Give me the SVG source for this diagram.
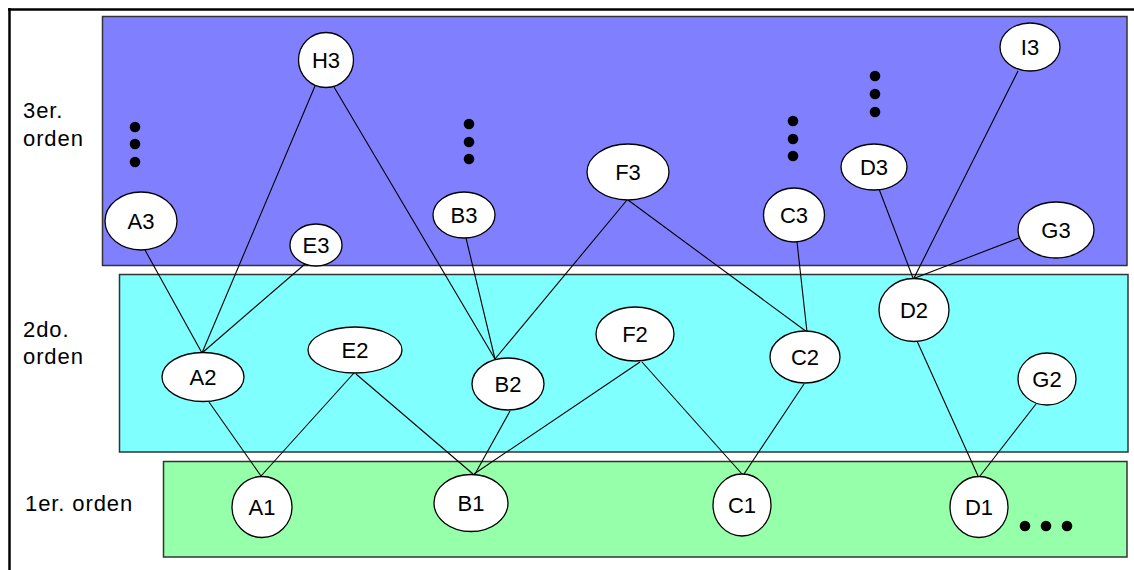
<svg xmlns="http://www.w3.org/2000/svg" width="1134" height="570" viewBox="0 0 1134 570">
<style>
.lbl{font-family:"Liberation Sans",Arial,sans-serif;font-size:22px;letter-spacing:0.9px;fill:#000}
.nt{font-family:"Liberation Sans",Arial,sans-serif;font-size:22px;fill:#000;text-anchor:middle}
.nd{fill:#fff;stroke:#000;stroke-width:1.3}
.band{stroke:#333;stroke-width:1.5}
#connectors line{stroke:#000;stroke-width:1.1}
.dot{fill:#000}
</style>
<rect width="1134" height="570" fill="#fff"/>
<g id="frame">
<line x1="8" y1="9.5" x2="1134" y2="9.5" stroke="#000" stroke-width="2.5"/>
<line x1="9.5" y1="8" x2="9.5" y2="570" stroke="#000" stroke-width="2.5"/>
</g>
<g id="bands">
<rect class="band" x="102.5" y="16.5" width="1024.5" height="249" fill="#8080ff"/>
<rect class="band" x="119.5" y="274.5" width="1008.5" height="177.5" fill="#80ffff"/>
<rect class="band" x="163.5" y="461.5" width="963.5" height="95.5" fill="#96ffaa"/>
</g>
<g id="labels">
<text class="lbl" x="23" y="118">3er.</text>
<text class="lbl" x="23" y="146">orden</text>
<text class="lbl" x="23" y="337">2do.</text>
<text class="lbl" x="23" y="364">orden</text>
<text class="lbl" x="25" y="511">1er. orden</text>
</g>
<g id="ellipsis">
<circle class="dot" cx="135" cy="127" r="5.3"/><circle class="dot" cx="135" cy="144" r="5.3"/><circle class="dot" cx="135" cy="162" r="5.3"/>
<circle class="dot" cx="469" cy="124" r="5.3"/><circle class="dot" cx="469" cy="142" r="5.3"/><circle class="dot" cx="469" cy="159" r="5.3"/>
<circle class="dot" cx="793" cy="121" r="5.3"/><circle class="dot" cx="793" cy="139" r="5.3"/><circle class="dot" cx="793" cy="156" r="5.3"/>
<circle class="dot" cx="875" cy="76" r="5.3"/><circle class="dot" cx="875" cy="94" r="5.3"/><circle class="dot" cx="875" cy="112" r="5.3"/>
<circle class="dot" cx="1025" cy="526" r="5.3"/><circle class="dot" cx="1046" cy="526" r="5.3"/><circle class="dot" cx="1067" cy="526" r="5.3"/>
</g>
<g id="connectors">
<line x1="145" y1="250" x2="202" y2="353"/>
<line x1="315" y1="86" x2="202" y2="353"/>
<line x1="305" y1="264" x2="202" y2="353"/>
<line x1="334" y1="87" x2="495" y2="359"/>
<line x1="466" y1="238" x2="495" y2="359"/>
<line x1="627" y1="200" x2="495" y2="359"/>
<line x1="628" y1="200" x2="807" y2="332"/>
<line x1="797" y1="242" x2="807" y2="332"/>
<line x1="879" y1="189" x2="913" y2="278"/>
<line x1="1018" y1="71" x2="914" y2="278"/>
<line x1="1019" y1="238" x2="915" y2="278"/>
<line x1="209" y1="402" x2="261" y2="476"/>
<line x1="354" y1="373" x2="261" y2="476"/>
<line x1="356" y1="374" x2="473" y2="474"/>
<line x1="510" y1="411" x2="475" y2="474"/>
<line x1="640" y1="362" x2="474" y2="474"/>
<line x1="642" y1="362" x2="742" y2="474"/>
<line x1="804" y1="384" x2="744" y2="474"/>
<line x1="917" y1="341" x2="978" y2="476"/>
<line x1="1036" y1="404" x2="980" y2="476"/>
</g>
<g id="H3"><ellipse class="nd" cx="326" cy="60" rx="27.5" ry="27.5"/><text class="nt" x="326" y="68">H3</text></g>
<g id="A3"><ellipse class="nd" cx="141" cy="221" rx="36" ry="29"/><text class="nt" x="141" y="229">A3</text></g>
<g id="E3"><ellipse class="nd" cx="316" cy="245" rx="26" ry="21"/><text class="nt" x="316" y="253">E3</text></g>
<g id="B3"><ellipse class="nd" cx="464" cy="215" rx="31" ry="23"/><text class="nt" x="464" y="223">B3</text></g>
<g id="F3"><ellipse class="nd" cx="628" cy="172" rx="41" ry="28"/><text class="nt" x="628" y="180">F3</text></g>
<g id="C3"><ellipse class="nd" cx="794" cy="215" rx="30.5" ry="27"/><text class="nt" x="794" y="223">C3</text></g>
<g id="D3"><ellipse class="nd" cx="874" cy="167" rx="33" ry="23"/><text class="nt" x="874" y="175">D3</text></g>
<g id="I3"><ellipse class="nd" cx="1030" cy="47" rx="30" ry="24"/><text class="nt" x="1030" y="55">I3</text></g>
<g id="G3"><ellipse class="nd" cx="1056" cy="230" rx="38" ry="28"/><text class="nt" x="1056" y="238">G3</text></g>
<g id="A2"><ellipse class="nd" cx="203" cy="377" rx="41" ry="24.5"/><text class="nt" x="203" y="385">A2</text></g>
<g id="E2"><ellipse class="nd" cx="355" cy="350" rx="47" ry="23"/><text class="nt" x="355" y="358">E2</text></g>
<g id="B2"><ellipse class="nd" cx="508" cy="384" rx="36" ry="26"/><text class="nt" x="508" y="392">B2</text></g>
<g id="F2"><ellipse class="nd" cx="635" cy="334" rx="39" ry="27"/><text class="nt" x="635" y="342">F2</text></g>
<g id="C2"><ellipse class="nd" cx="805" cy="357" rx="35" ry="26"/><text class="nt" x="805" y="365">C2</text></g>
<g id="D2"><ellipse class="nd" cx="914" cy="310" rx="35" ry="31.5"/><text class="nt" x="914" y="318">D2</text></g>
<g id="G2"><ellipse class="nd" cx="1047" cy="379" rx="29" ry="26"/><text class="nt" x="1047" y="387">G2</text></g>
<g id="A1"><ellipse class="nd" cx="262" cy="507" rx="30" ry="30.5"/><text class="nt" x="262" y="515">A1</text></g>
<g id="B1"><ellipse class="nd" cx="471" cy="503" rx="37" ry="28.5"/><text class="nt" x="471" y="511">B1</text></g>
<g id="C1"><ellipse class="nd" cx="742" cy="505" rx="29" ry="31"/><text class="nt" x="742" y="513">C1</text></g>
<g id="D1"><ellipse class="nd" cx="979" cy="507" rx="29" ry="30.5"/><text class="nt" x="979" y="515">D1</text></g>
</svg>
